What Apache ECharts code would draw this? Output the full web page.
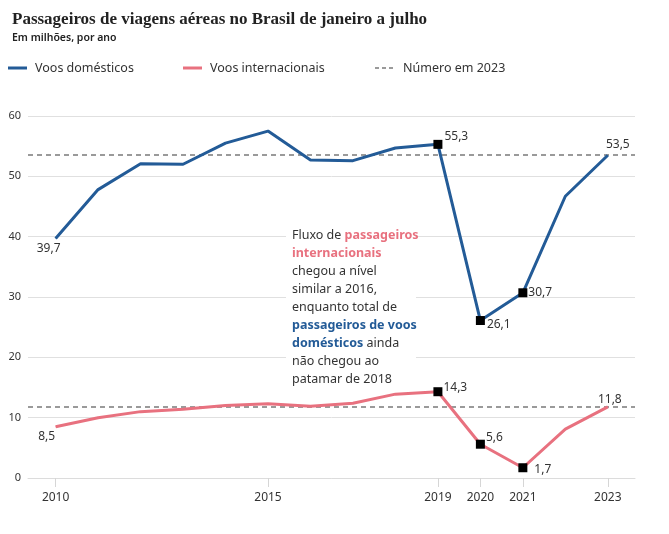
<!DOCTYPE html>
<html>
<head>
<meta charset="utf-8">
<script src="https://cdn.jsdelivr.net/npm/echarts@6/dist/echarts.min.js"></script>
<style>
  html, body { margin: 0; padding: 0; background: #fff; }
  #chart { width: 669px; height: 534px; }
</style>
</head>
<body>
<div id="chart"></div>
<script>
const years = [2010, 2011, 2012, 2013, 2014, 2015, 2016, 2017, 2018, 2019, 2020, 2021, 2022, 2023];
const domestic = [39.7, 47.8, 52.1, 52.0, 55.5, 57.5, 52.7, 52.6, 54.7, 55.3, 26.1, 30.7, 46.7, 53.5];
const international = [8.5, 10.0, 11.0, 11.4, 12.0, 12.3, 11.9, 12.4, 13.9, 14.3, 5.6, 1.7, 8.1, 11.8];
const ref2023 = [53.5, 11.8];
const tickYears = [2010, 2015, 2019, 2020, 2021, 2023];
const markedYears = [2019, 2020, 2021];

const BLUE = "#235b97";
const PINK = "#e8717f";
const TEXT = "#333";
const FONT = "Noto Sans";

// label placement for the labelled points
const domLabels = {
  2010: { position: "bottom", offset: [-7, 0] },
  2019: { position: "right", offset: [-2, -8] },
  2020: { position: "right", offset: [-2, 4] },
  2021: { position: "right", offset: [-3, 0] },
  2023: { position: "top", offset: [10, 0] },
};
const intLabels = {
  2010: { position: "bottom", offset: [-9, 0] },
  2019: { position: "right", offset: [-3, -4] },
  2020: { position: "right", offset: [-3, -7] },
  2021: { position: "right", offset: [3, 2] },
  2023: { position: "top", offset: [2, 3] },
};

const fmt = (v) => String(v).replace(".", ",");

function buildData(values, labels, color) {
  return years.map((y, i) => {
    const marked = markedYears.indexOf(y) >= 0;
    const item = {
      value: [y, values[i]],
      symbol: "rect",
      symbolSize: marked ? 9 : 0.5,
      itemStyle: { color: marked ? "#000" : color },
    };
    if (labels[y]) {
      item.label = {
        show: true,
        position: labels[y].position,
        offset: labels[y].offset,
        distance: 4,
        formatter: fmt(values[i]),
        color: TEXT,
        fontSize: 12,
        fontFamily: FONT,
      };
    }
    return item;
  });
}

function refLine(v) {
  return {
    silent: true,
    symbol: "none",
    label: { show: false },
    lineStyle: { color: "#9a9a9a", type: [5, 4], width: 2 },
    data: [{ yAxis: v }],
  };
}

const chart = echarts.init(document.getElementById("chart"));

const option = {
  animation: false,
  textStyle: { fontFamily: FONT, color: TEXT },
  title: {
    text: "Passageiros de viagens aéreas no Brasil de janeiro a julho",
    subtext: "Em milhões, por ano",
    left: 7,
    top: 6,
    itemGap: 5,
    textStyle: {
      fontFamily: "Liberation Serif",
      fontSize: 17,
      fontWeight: "bold",
      color: "#222",
    },
    subtextStyle: {
      fontFamily: FONT,
      fontSize: 10.5,
      fontWeight: 600,
      color: "#222",
    },
  },
  grid: { left: 28, right: 34, top: 116, bottom: 56 },
  xAxis: {
    type: "value",
    min: 2009.35,
    max: 2023.64,
    splitLine: { show: false },
    axisLine: { show: true, lineStyle: { color: "#dcdcdc" } },
    axisTick: {
      show: true,
      customValues: tickYears,
      length: 9,
      lineStyle: { color: "#d6d6d6" },
    },
    axisLabel: {
      customValues: tickYears,
      formatter: (v) => String(v),
      color: TEXT,
      fontSize: 12,
      margin: 14,
    },
  },
  yAxis: {
    type: "value",
    min: 0,
    max: 60,
    interval: 10,
    axisLine: { show: false },
    axisTick: { show: false },
    axisLabel: { color: TEXT, fontSize: 11, margin: 7 },
    splitLine: { lineStyle: { color: "#e0e0e0", width: 1 } },
  },
  series: [
    {
      name: "Voos domésticos",
      type: "line",
      data: buildData(domestic, domLabels, BLUE),
      lineStyle: { color: BLUE, width: 3 },
      markLine: refLine(ref2023[0]),
      z: 5,
    },
    {
      name: "Voos internacionais",
      type: "line",
      data: buildData(international, intLabels, PINK),
      lineStyle: { color: PINK, width: 3 },
      markLine: refLine(ref2023[1]),
      z: 5,
    },
  ],
  graphic: [
    // legend
    { type: "line", shape: { x1: 8, y1: 68, x2: 27, y2: 68 }, style: { stroke: BLUE, lineWidth: 3 } },
    { type: "text", x: 35, y: 68, style: { text: "Voos domésticos", fill: TEXT, font: "12.5px 'Noto Sans'", verticalAlign: "middle" } },
    { type: "line", shape: { x1: 183, y1: 68, x2: 202, y2: 68 }, style: { stroke: PINK, lineWidth: 3 } },
    { type: "text", x: 210, y: 68, style: { text: "Voos internacionais", fill: TEXT, font: "12.5px 'Noto Sans'", verticalAlign: "middle" } },
    { type: "line", shape: { x1: 375, y1: 68, x2: 396, y2: 68 }, style: { stroke: "#9a9a9a", lineWidth: 2, lineDash: [4, 3] } },
    { type: "text", x: 403, y: 68, style: { text: "Número em 2023", fill: TEXT, font: "12.5px 'Noto Sans'", verticalAlign: "middle" } },
    // annotation
    { type: "rect", shape: { x: 286, y: 224, width: 130, height: 166 }, style: { fill: "#fff" }, z: 10 },
    {
      type: "text",
      x: 292,
      y: 226,
      z: 11,
      style: {
        text: [
          "Fluxo de {p|passageiros}",
          "{p|internacionais}",
          "chegou a nível",
          "similar a 2016,",
          "enquanto total de",
          "{b|passageiros de voos}",
          "{b|domésticos} ainda",
          "não chegou ao",
          "patamar de 2018",
        ].join("\n"),
        fill: TEXT,
        fontFamily: FONT,
        fontSize: 12.5,
        lineHeight: 18,
        rich: {
          p: { fill: PINK, fontWeight: "bold", fontFamily: FONT, fontSize: 12.5, lineHeight: 18 },
          b: { fill: BLUE, fontWeight: "bold", fontFamily: FONT, fontSize: 12.5, lineHeight: 18 },
        },
      },
    },
  ],
};

chart.setOption(option);
</script>
</body>
</html>
